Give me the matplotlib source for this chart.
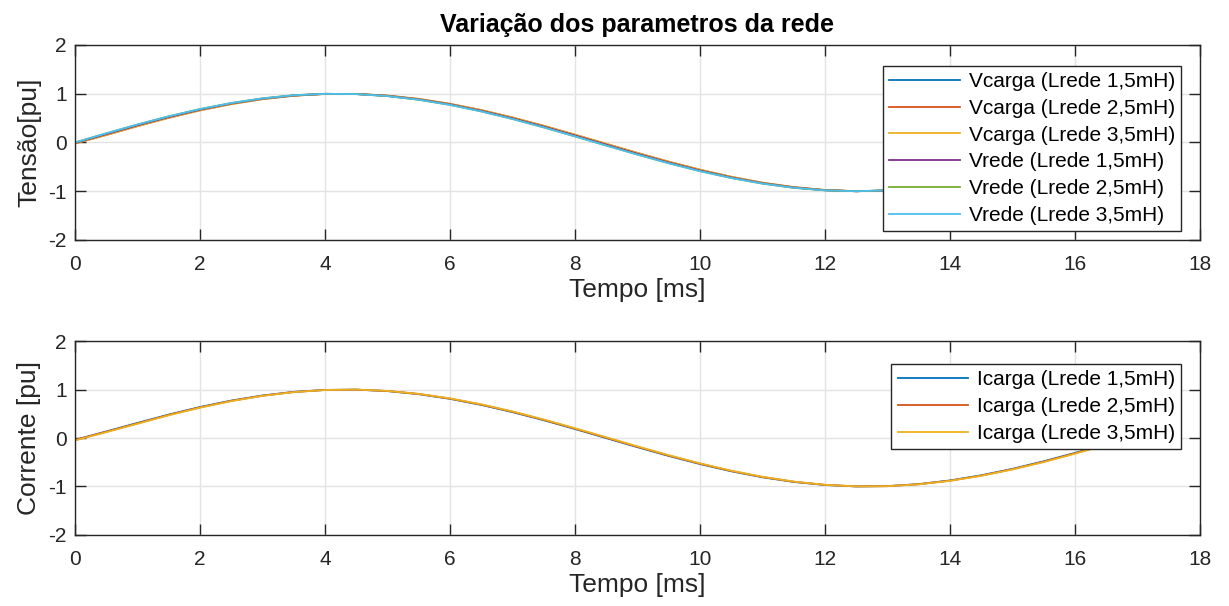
import matplotlib
matplotlib.use("Agg")
import matplotlib.pyplot as plt

plt.rcParams["font.family"] = ["Liberation Sans", "DejaVu Sans"]
plt.rcParams["axes.unicode_minus"] = False

# tempo em ms (amostras lidas a cada 0,5 ms)
tempo = [0.0, 0.5, 1.0, 1.5, 2.0, 2.5, 3.0, 3.5, 4.0, 4.5, 5.0, 5.5,
         6.0, 6.5, 7.0, 7.5, 8.0, 8.5, 9.0, 9.5, 10.0, 10.5, 11.0, 11.5,
         12.0, 12.5, 13.0, 13.5, 14.0, 14.5, 15.0, 15.5, 16.0, 16.5]

vcarga_15 = [-0.01, 0.170, 0.352, 0.521, 0.672, 0.799, 0.897, 0.964, 0.997, 0.994,
             0.956, 0.885, 0.782, 0.651, 0.497, 0.326, 0.143, -0.045, -0.232, -0.410,
             -0.574, -0.717, -0.835, -0.923, -0.979, -1.000, -0.985, -0.936, -0.853,
             -0.741, -0.602, -0.441, -0.266, -0.080]
vcarga_25 = [-0.02, 0.153, 0.335, 0.506, 0.659, 0.788, 0.889, 0.959, 0.995, 0.996,
             0.961, 0.893, 0.792, 0.664, 0.512, 0.342, 0.160, -0.028, -0.215, -0.394,
             -0.559, -0.705, -0.826, -0.916, -0.975, -0.999, -0.988, -0.942, -0.862,
             -0.753, -0.616, -0.457, -0.282, -0.098]
vcarga_35 = [-0.02, 0.153, 0.335, 0.506, 0.659, 0.788, 0.889, 0.959, 0.995, 0.996,
             0.961, 0.893, 0.792, 0.664, 0.512, 0.342, 0.160, -0.028, -0.215, -0.394,
             -0.559, -0.705, -0.826, -0.916, -0.975, -0.999, -0.988, -0.942, -0.862,
             -0.753, -0.616, -0.457, -0.282, -0.098]
vrede_15 = [-0.01, 0.170, 0.352, 0.521, 0.672, 0.799, 0.897, 0.964, 0.997, 0.994,
            0.956, 0.885, 0.782, 0.651, 0.497, 0.326, 0.143, -0.045, -0.232, -0.410,
            -0.574, -0.717, -0.835, -0.923, -0.979, -1.000, -0.985, -0.936, -0.853,
            -0.741, -0.602, -0.441, -0.266, -0.080]
vrede_25 = [0.0, 0.187, 0.368, 0.536, 0.685, 0.809, 0.905, 0.969, 0.998, 0.992,
            0.951, 0.876, 0.771, 0.637, 0.482, 0.309, 0.125, -0.063, -0.249, -0.426,
            -0.588, -0.729, -0.844, -0.930, -0.982, -1.000, -0.982, -0.930, -0.844,
            -0.729, -0.588, -0.426, -0.249, -0.063]
vrede_35 = [0.0, 0.187, 0.368, 0.536, 0.685, 0.809, 0.905, 0.969, 0.998, 0.992,
            0.951, 0.876, 0.771, 0.637, 0.482, 0.309, 0.125, -0.063, -0.249, -0.426,
            -0.588, -0.729, -0.844, -0.930, -0.982, -1.000, -0.982, -0.930, -0.844,
            -0.729, -0.588, -0.426, -0.249, -0.063]

icarga_15 = [-0.04, 0.135, 0.311, 0.483, 0.639, 0.772, 0.877, 0.952, 0.992, 0.998,
             0.968, 0.904, 0.808, 0.683, 0.534, 0.367, 0.186, -0.002, -0.189, -0.370,
             -0.537, -0.686, -0.810, -0.906, -0.969, -0.998, -0.992, -0.951, -0.875,
             -0.769, -0.636, -0.480, -0.307, -0.124]
icarga_25 = [-0.04, 0.128, 0.302, 0.476, 0.632, 0.766, 0.873, 0.949, 0.991, 0.998,
             0.970, 0.908, 0.813, 0.689, 0.542, 0.375, 0.194, 0.007, -0.181, -0.362,
             -0.530, -0.680, -0.805, -0.902, -0.967, -0.998, -0.993, -0.953, -0.879,
             -0.775, -0.643, -0.488, -0.316, -0.132]
icarga_35 = [-0.05, 0.120, 0.294, 0.468, 0.625, 0.760, 0.869, 0.946, 0.990, 0.999,
             0.972, 0.911, 0.818, 0.696, 0.549, 0.383, 0.203, 0.016, -0.172, -0.353,
             -0.522, -0.673, -0.800, -0.898, -0.965, -0.997, -0.994, -0.956, -0.884,
             -0.780, -0.649, -0.496, -0.324, -0.141]

tensao_series = [vcarga_15, vcarga_25, vcarga_35, vrede_15, vrede_25, vrede_35]
tensao_labels = ["Vcarga (Lrede 1,5mH)", "Vcarga (Lrede 2,5mH)", "Vcarga (Lrede 3,5mH)",
                 "Vrede (Lrede 1,5mH)", "Vrede (Lrede 2,5mH)", "Vrede (Lrede 3,5mH)"]
corrente_series = [icarga_15, icarga_25, icarga_35]
corrente_labels = ["Icarga (Lrede 1,5mH)", "Icarga (Lrede 2,5mH)", "Icarga (Lrede 3,5mH)"]

x_ticks = [0, 2, 4, 6, 8, 10, 12, 14, 16, 18]
y_ticks = [-2, -1, 0, 1, 2]

colors = ["#0072BD", "#D95319", "#EDB120", "#7E2F8E", "#77AC30", "#4DBEEE"]
AX_COLOR = "#262626"


def style_axes(ax):
    """
    MATLAB-like look: box, inward ticks on all sides, light grid.
    """

    ax.set_xlim(0, 18)
    ax.set_ylim(-2, 2)
    ax.set_xticks(x_ticks)
    ax.set_yticks(y_ticks)
    ax.grid(True, color="#e3e3e3", linewidth=1.0)
    ax.set_axisbelow(True)
    ax.tick_params(direction="in", top=True, right=True, length=8,
                   width=1.0, colors=AX_COLOR, labelsize=15)
    ax.tick_params(axis="x", pad=11)
    ax.tick_params(axis="y", pad=6)
    for spine in ax.spines.values():
        spine.set_color(AX_COLOR)
        spine.set_linewidth(1.0)
    ax.set_xlabel("Tempo [ms]", fontsize=19, color=AX_COLOR, labelpad=3)


def add_legend(ax, anchor_y):
    """
    Boxed opaque legend placed at the upper right corner.
    """

    legend = ax.legend(
        loc="upper right",
        bbox_to_anchor=(0.961, anchor_y),
        bbox_transform=fig.transFigure,
        fontsize=15,
        frameon=True,
        fancybox=False,
        framealpha=1.0,
        edgecolor=AX_COLOR,
        handlelength=3.4,
        labelspacing=0.37,
        borderpad=0.3,
        handletextpad=0.4,
        borderaxespad=0
    )
    legend.get_frame().set_linewidth(1.0)


fig = plt.figure(figsize=(12.29, 6.06), dpi=100)

ax1 = fig.add_axes([0.061, 0.604, 0.9154, 0.3218])
for values, label, color in zip(tensao_series, tensao_labels, colors):
    ax1.plot(tempo, values, color=color, linewidth=1.3, label=label)
style_axes(ax1)
ax1.set_ylabel("Tensão[pu]", fontsize=19, color=AX_COLOR, labelpad=5)
ax1.set_title("Variação dos parametros da rede", fontsize=18,
              fontweight="bold", pad=9)
add_legend(ax1, 0.891)

ax2 = fig.add_axes([0.061, 0.1172, 0.9154, 0.320])
for values, label, color in zip(corrente_series, corrente_labels, colors):
    ax2.plot(tempo, values, color=color, linewidth=1.3, label=label)
style_axes(ax2)
ax2.set_ylabel("Corrente [pu]", fontsize=19, color=AX_COLOR, labelpad=5)
add_legend(ax2, 0.399)

fig.savefig("out.png", dpi=100, facecolor="white")
